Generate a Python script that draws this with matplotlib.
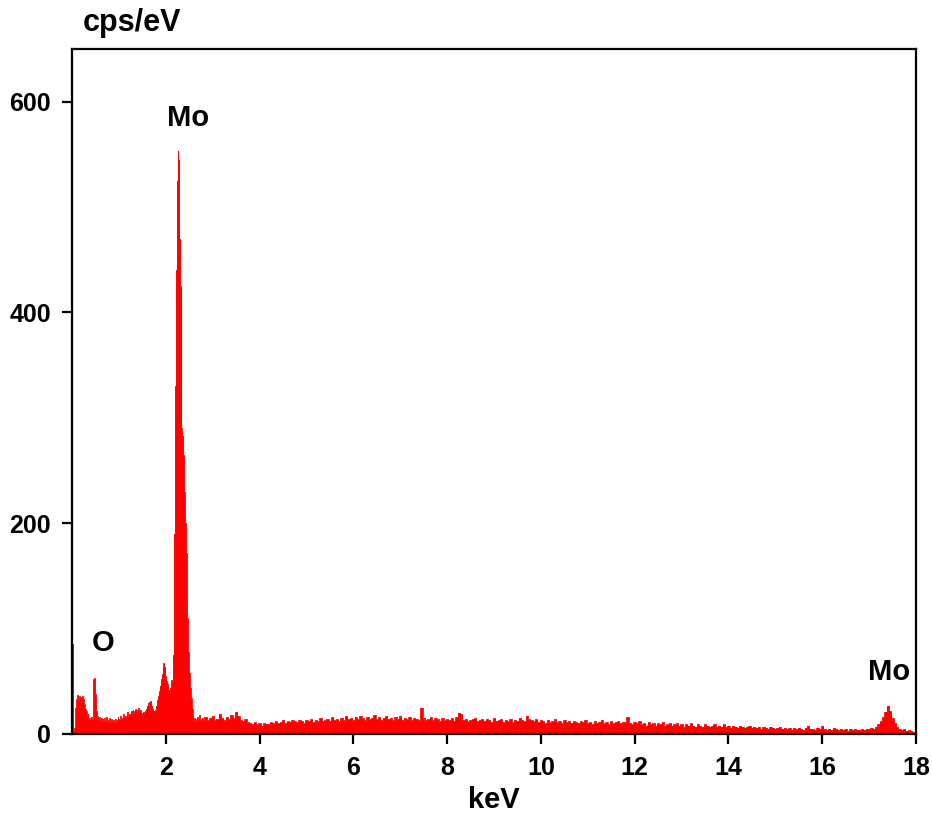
import numpy as np
import matplotlib
matplotlib.use("Agg")
import matplotlib.pyplot as plt

plt.rcParams['font.family'] = ['Liberation Sans', 'DejaVu Sans']
plt.rcParams['font.weight'] = 'bold'

# EDS spectrum
# fine part: 0.00 - 2.78 keV, step 0.02 keV
fine_step = 0.02
fine_counts = [
    0, 85, 3, 6, 25, 33, 37, 31, 36, 35,
    30, 36, 33, 28, 24, 22, 17, 19, 14, 15,
    13, 16, 14, 52, 53, 38, 22, 17, 14, 16,
    13, 15, 12, 14, 13, 15, 12, 16, 12, 13,
    15, 11, 14, 12, 13, 12, 14, 11, 13, 16,
    13, 14, 17, 14, 15, 19, 15, 17, 16, 21,
    17, 19, 18, 22, 19, 23, 20, 22, 24, 20,
    23, 25, 21, 23, 20, 18, 21, 19, 22, 24,
    27, 29, 26, 30, 31, 27, 24, 22, 21, 23,
    27, 32, 36, 41, 46, 52, 57, 63, 67, 64,
    55, 50, 47, 42, 39, 44, 51, 50, 75, 190,
    330, 440, 525, 553, 545, 470, 425, 290, 283, 265,
    230, 200, 172, 110, 78, 58, 44, 34, 24, 16,
    13, 15, 12, 14, 16, 13, 18, 14, 13, 15,
]

# coarse part: 2.80 - 18.00 keV, step 0.05 keV
coarse_start = 2.80
coarse_step = 0.05
coarse_counts = [
    14, 16, 13, 15, 17, 13, 14, 19, 15, 13, 16, 14, 18, 15, 21, 17, 13, 12, 14, 11,
    10, 9, 11, 9, 10, 8, 10, 9, 9, 11, 10, 12, 10, 11, 13, 10, 12, 11, 13, 12,
    11, 13, 12, 10, 13, 12, 14, 11, 13, 12, 15, 12, 13, 14, 12, 16, 13, 14, 12, 15,
    13, 17, 14, 15, 13, 16, 14, 17, 15, 13, 16, 14, 15, 18, 14, 16, 13, 15, 17, 14,
    15, 13, 16, 14, 17, 13, 15, 14, 16, 13, 15, 14, 13, 25, 15, 13, 14, 16, 13, 15,
    14, 12, 15, 13, 14, 13, 15, 12, 16, 20, 19, 13, 14, 12, 13, 14, 15, 12, 13, 14,
    12, 14, 13, 11, 15, 12, 13, 14, 11, 13, 12, 14, 11, 13, 12, 15, 13, 12, 17, 14,
    13, 12, 14, 11, 13, 12, 10, 13, 11, 12, 14, 11, 12, 10, 13, 11, 12, 10, 12, 11,
    10, 12, 11, 13, 10, 11, 9, 12, 10, 11, 13, 10, 11, 9, 12, 10, 11, 12, 10, 11,
    11, 16, 10, 9, 11, 10, 12, 9, 10, 8, 11, 9, 10, 8, 10, 9, 11, 8, 9, 10,
    8, 9, 10, 8, 9, 7, 9, 8, 10, 8, 7, 9, 8, 7, 9, 8, 7, 8, 9, 7,
    8, 7, 9, 7, 8, 6, 8, 7, 6, 8, 7, 6, 7, 8, 6, 7, 6, 7, 5, 7,
    6, 5, 7, 6, 5, 6, 7, 5, 6, 5, 6, 4, 6, 5, 6, 5, 4, 6, 8, 5,
    5, 4, 6, 5, 8, 5, 4, 5, 4, 6, 5, 4, 5, 4, 5, 3, 5, 4, 5, 4,
    4, 5, 4, 5, 5, 6, 5, 7, 9, 12, 16, 21, 27, 22, 15, 10, 7, 5, 4, 5,
    3, 4, 3, 2, 2,
]

peak_labels = ["Mo", "O", "Mo"]
peak_pos = [(2.48, 585), (0.66, 86), (17.42, 59)]

x_ticks = [2, 4, 6, 8, 10, 12, 14, 16, 18]
y_ticks = [0, 200, 400, 600]

energy = np.concatenate([
    np.arange(len(fine_counts)) * fine_step,
    coarse_start + np.arange(len(coarse_counts)) * coarse_step,
])
counts = np.array(fine_counts + coarse_counts, dtype=float)

fig = plt.figure(figsize=(9.32, 8.14), dpi=100)
ax = fig.add_axes([0.0773, 0.0983, 0.9055, 0.8415])

ax.fill_between(energy, counts, step='mid', color='#ff0000', lw=0)
ax.step(energy, counts, where='mid', color='#ff0000', lw=0.6)

ax.set_xlim(0, 18)
ax.set_ylim(0, 650)
ax.set_xticks(x_ticks)
ax.set_yticks(y_ticks)
ax.tick_params(direction='out', length=7, width=1.6, labelsize=18)
ax.tick_params(axis='x', pad=9)
ax.tick_params(axis='y', pad=8)
for s in ax.spines.values():
    s.set_linewidth(1.6)

ax.set_xlabel("keV", fontsize=21, fontweight='bold', labelpad=4)
fig.text(0.142, 0.972, "cps/eV", fontsize=22, fontweight='bold', ha='center', va='center')

for lab, (x, y) in zip(peak_labels, peak_pos):
    ax.text(x, y, lab, fontsize=21, fontweight='bold', ha='center', va='center')

fig.savefig("out.png", dpi=100)
